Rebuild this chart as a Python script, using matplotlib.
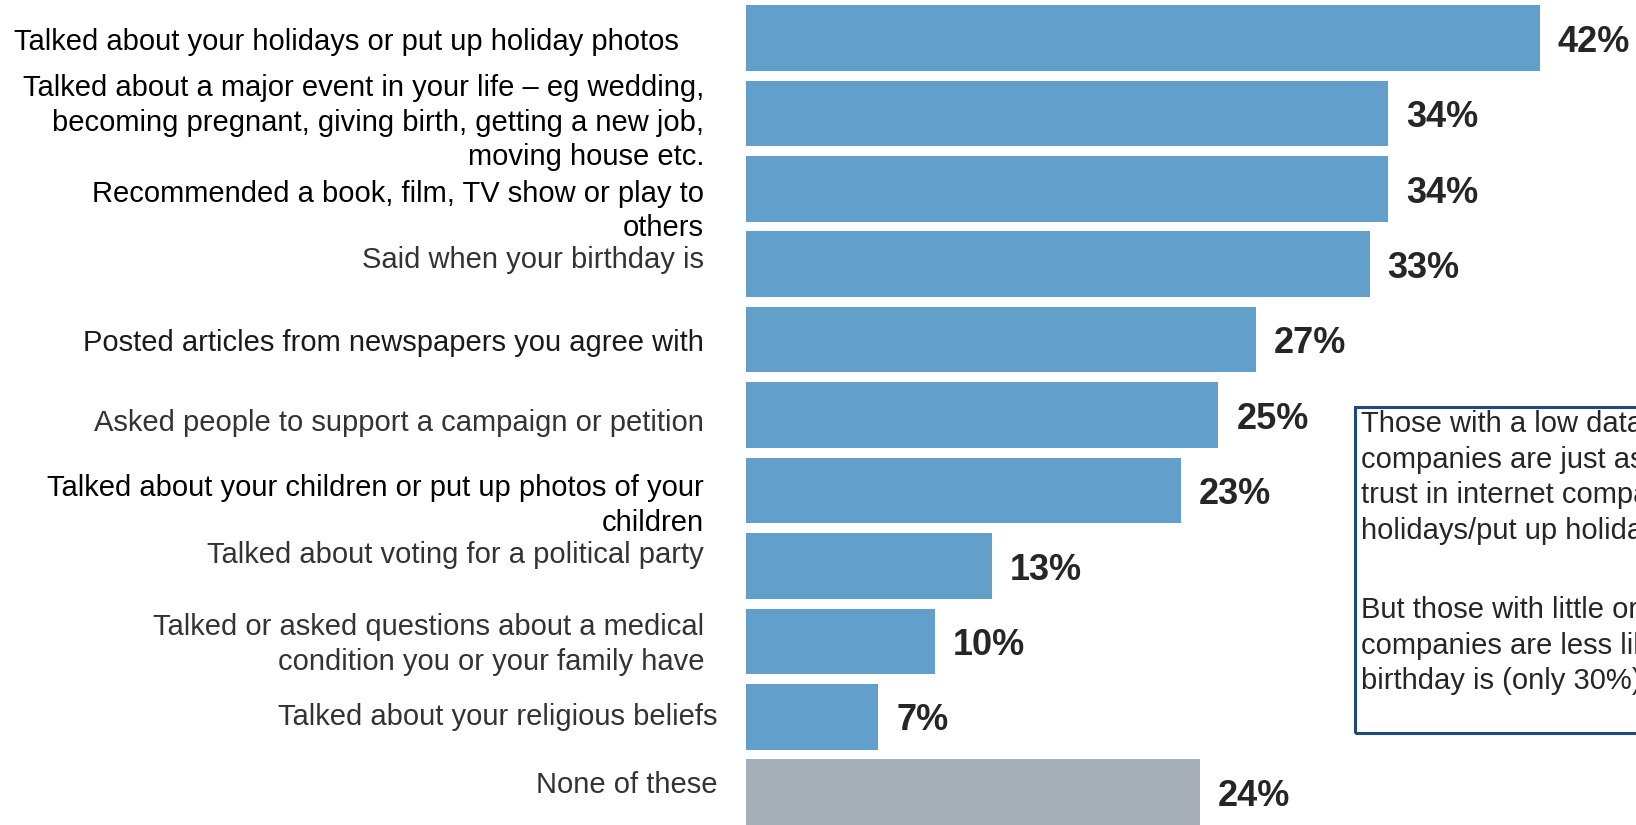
import matplotlib
matplotlib.use("Agg")
import matplotlib.pyplot as plt
import matplotlib.transforms as mtransforms
from matplotlib.patches import Rectangle

plt.rcParams['font.family'] = ['Liberation Sans', 'DejaVu Sans']

# Survey answers, top to bottom
categories = [
    "Talked about your holidays or put up holiday photos",
    "Talked about a major event in your life \u2013 eg wedding,\nbecoming pregnant, giving birth, getting a new job,\nmoving house etc.",
    "Recommended a book, film, TV show or play to\nothers",
    "Said when your birthday is",
    "Posted articles from newspapers you agree with",
    "Asked people to support a campaign or petition",
    "Talked about your children or put up photos of your\nchildren",
    "Talked about voting for a political party",
    "Talked or asked questions about a medical\ncondition you or your family have",
    "Talked about your religious beliefs",
    "None of these",
]
shares = [42, 34, 34, 33, 27, 25, 23, 13, 10, 7, 24]

note_paragraphs = [
    "Those with a low data trust in internet\n"
    "companies are just as likely as those with high\n"
    "trust in internet companies to have talked about\n"
    "holidays/put up holiday photos",
    "But those with little or no trust in internet\n"
    "companies are less likely to have said when their\n"
    "birthday is (only 30%)",
]

# label layout: right edge in pixels, vertical nudge in bar units, colour
label_right = [679, 704, 704, 704, 704, 704, 704, 704, 704, 718, 718]
label_nudge = [0.05, 0.12, 0.29, -0.06, 0.04, 0.10, 0.20, -0.14, 0.04, 0.0, -0.10]
label_color = ['#000000', '#000000', '#000000', '#333333', '#1a1a1a', '#333333',
               '#000000', '#333333', '#333333', '#333333', '#333333']

blue = '#629FCA'
grey = '#A6AEB8'

W, H = 1636, 825
fig = plt.figure(figsize=(W / 100, H / 100), dpi=100)
ax = fig.add_axes([746 / W, 0, 1 - 746 / W, 1])

ypos = list(range(len(categories)))
colors = [blue] * (len(categories) - 1) + [grey]
ax.barh(ypos, shares, height=0.87, color=colors)

ax.set_xlim(0, 47.1)
ax.set_ylim(10.436, -0.505)
ax.axis('off')

for y, v in zip(ypos, shares):
    ax.annotate(f"{v}%", (v, y), xytext=(13, -3), textcoords='offset points',
                ha='left', va='center', fontsize=26, fontweight='bold',
                color='#262626')

# category names sit to the left of the bars
to_px = mtransforms.blended_transform_factory(
    mtransforms.Affine2D().scale(1.0), ax.transData)
for y, name, xr, dy, c in zip(ypos, categories, label_right, label_nudge, label_color):
    ax.text(xr, y + dy, name, transform=to_px, ha='right', va='center',
            fontsize=21, color=c, linespacing=1.29, clip_on=False)

# side note box running off the right edge
box = Rectangle((1355 / W, 1 - 733 / H), 0.3, (733 - 407) / H,
                transform=fig.transFigure, fill=False, edgecolor='#1F497D',
                linewidth=2.2)
fig.patches.append(box)
for top, para in zip([410, 596], note_paragraphs):
    fig.text(1361 / W, 1 - top / H, para, ha='left', va='top',
             fontsize=21, color='#262626', linespacing=1.35)

fig.savefig("out.png", dpi=100)
